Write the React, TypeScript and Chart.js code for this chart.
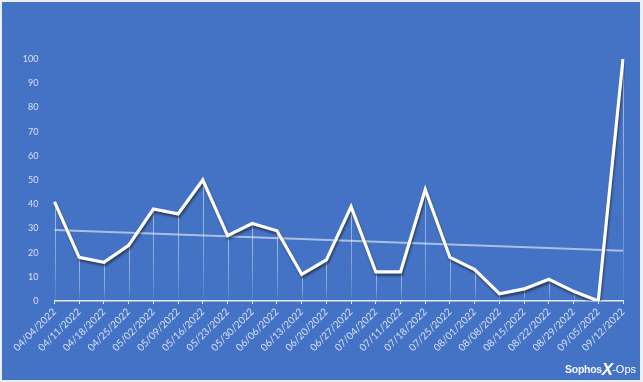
import React, { useEffect, useRef } from "react";
import { Chart, registerables } from "chart.js";

Chart.register(...registerables);

const categories = [
  "04/04/2022", "04/11/2022", "04/18/2022", "04/25/2022", "05/02/2022", "05/09/2022",
  "05/16/2022", "05/23/2022", "05/30/2022", "06/06/2022", "06/13/2022", "06/20/2022",
  "06/27/2022", "07/04/2022", "07/11/2022", "07/18/2022", "07/25/2022", "08/01/2022",
  "08/08/2022", "08/15/2022", "08/22/2022", "08/29/2022", "09/05/2022", "09/12/2022",
];

const values = [41, 18, 16, 23, 38, 36, 50, 27, 32, 29, 11, 17, 39, 12, 12, 46, 18, 13, 3, 5, 9, 4, 0, 100];

// Trend line: start and end values only
const trendStart = 29.3;
const trendEnd = 20.8;
const trendValues: (number | null)[] = categories.map((_, i) =>
  i === 0 ? trendStart : i === categories.length - 1 ? trendEnd : null
);

const yTickMin = 0;
const yTickMax = 100;
const yTickStep = 10;

const dropLinePlugin = {
  id: "dropLines",
  beforeDatasetsDraw(chart: any) {
    const meta = chart.getDatasetMeta(0);
    const ctx = chart.ctx;
    const yScale = chart.scales.y;
    const base = yScale.getPixelForValue(0);
    ctx.save();
    ctx.lineWidth = 1;
    meta.data.forEach((pt: any) => {
      const g = ctx.createLinearGradient(0, pt.y, 0, base);
      g.addColorStop(0, "rgba(255,255,255,0.55)");
      g.addColorStop(0.7, "rgba(255,255,255,0.3)");
      g.addColorStop(1, "rgba(255,255,255,0.05)");
      ctx.strokeStyle = g;
      ctx.beginPath();
      ctx.moveTo(Math.round(pt.x) + 0.5, pt.y);
      ctx.lineTo(Math.round(pt.x) + 0.5, base);
      ctx.stroke();
    });
    ctx.restore();
  },
};

const shadowPlugin = {
  id: "lineShadow",
  beforeDatasetDraw(chart: any, args: any) {
    if (args.index !== 0) return;
    const ctx = chart.ctx;
    ctx.save();
    ctx.shadowColor = "rgba(30,30,30,0.55)";
    ctx.shadowOffsetX = 1;
    ctx.shadowOffsetY = 2.5;
    ctx.shadowBlur = 2;
  },
  afterDatasetDraw(chart: any, args: any) {
    if (args.index !== 0) return;
    chart.ctx.restore();
  },
};

export default function App() {
  const ref = useRef<HTMLCanvasElement>(null);

  useEffect(() => {
    document.body.style.margin = "0";
    const canvas = ref.current!;
    const chart = new Chart(canvas, {
      type: "line",
      data: {
        labels: categories,
        datasets: [
          {
            data: values,
            borderColor: "#ffffff",
            borderWidth: 3.2,
            pointRadius: 0,
            tension: 0,
            borderJoinStyle: "miter",
          },
          {
            data: trendValues,
            borderColor: "rgba(255,255,255,0.55)",
            borderWidth: 2,
            pointRadius: 0,
            spanGaps: true,
          },
        ],
      },
      options: {
        responsive: false,
        animation: false,
        devicePixelRatio: 1,
        layout: { padding: { top: 57, left: 0, right: 17, bottom: 0 } },
        plugins: { legend: { display: false }, tooltip: { enabled: false } },
        scales: {
          x: {
            offset: false,
            grid: {
              display: true,
              drawOnChartArea: false,
              drawTicks: true,
              tickLength: 3,
              color: "rgba(255,255,255,0.85)",
              lineWidth: 1,
            },
            border: { display: true, color: "rgba(255,255,255,0.85)", width: 1.5 },
            ticks: {
              autoSkip: false,
              maxRotation: 45,
              minRotation: 45,
              padding: 2,
              color: "rgba(230,236,248,0.9)",
              font: { family: "Lato", size: 10 },
            },
            afterFit(scale: any) {
              scale.height = 79;
            },
          },
          y: {
            min: yTickMin,
            max: yTickMax,
            grid: { display: false },
            border: { display: false },
            ticks: {
              stepSize: yTickStep,
              padding: 8,
              color: "rgba(230,236,248,0.9)",
              font: { family: "Lato", size: 9 },
            },
            afterFit(scale: any) {
              scale.width = 52.5;
            },
          },
        },
      },
      plugins: [dropLinePlugin, shadowPlugin],
    });
    return () => chart.destroy();
  }, []);

  return (
    <div style={{ position: "fixed", left: 0, top: 0, width: 643, height: 382, background: "#e9eef7" }}>
      <div
        style={{
          position: "absolute",
          left: 2,
          top: 2,
          width: 638,
          height: 378,
          background: "#4472C4",
        }}
      >
        <canvas ref={ref} width={638} height={378} style={{ display: "block" }} />
        <div
          style={{
            position: "absolute",
            right: 4,
            top: 359,
            color: "#ffffff",
            fontFamily: "'Liberation Sans Narrow', 'Liberation Sans', Arial, sans-serif",
            whiteSpace: "nowrap",
            display: "flex",
            alignItems: "center",
            lineHeight: 1,
          }}
        >
          <span style={{ fontSize: 10.5, fontWeight: 700, letterSpacing: -0.3, opacity: 0.95 }}>Sophos</span>
          <span style={{ fontSize: 17, fontWeight: 700, fontStyle: "italic", margin: "0 -1px 0 0" }}>X</span>
          <span style={{ fontSize: 11, fontWeight: 400 }}>-Ops</span>
        </div>
      </div>
    </div>
  );
}
